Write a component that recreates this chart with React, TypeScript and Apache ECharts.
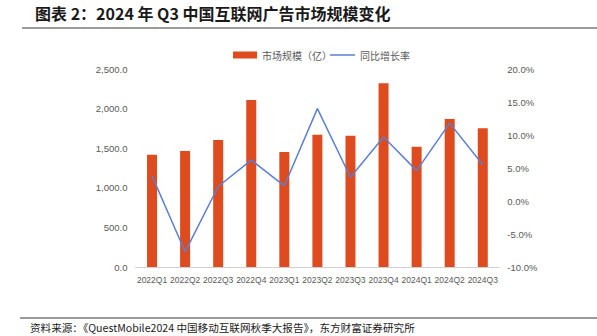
import React, { useEffect, useRef } from "react";
import * as echarts from "echarts";

const categories = ["2022Q1", "2022Q2", "2022Q3", "2022Q4", "2023Q1", "2023Q2", "2023Q3", "2023Q4", "2024Q1", "2024Q2", "2024Q3"];
const marketSize = [1418, 1465, 1604, 2109, 1452, 1671, 1658, 2319, 1519, 1869, 1751];
const yoyGrowth = [3.8, -7.7, 2.2, 6.2, 2.3, 14.0, 3.6, 9.7, 4.6, 11.8, 5.5];
const seriesNames = ["市场规模（亿）", "同比增长率"];
const titleText = "图表 2：2024 年 Q3 中国互联网广告市场规模变化";
const sourceText = "资料来源：《QuestMobile2024 中国移动互联网秋季大报告》，东方财富证券研究所";

export default function App() {
  const ref = useRef<HTMLDivElement>(null);
  useEffect(() => {
    const chart = echarts.init(ref.current!, null, { renderer: "svg" });
    const font = "'Noto Sans CJK SC', 'Noto Sans', sans-serif";
    const latin = "'Liberation Sans', Arial, sans-serif";
    chart.setOption({
      animation: false,
      backgroundColor: "#ffffff",
      textStyle: { fontFamily: font },
      graphic: [
        {
          type: "text",
          left: 35,
          top: 5,
          style: { text: titleText, fontSize: 16, fontWeight: "bold", fill: "#1a1a1a", fontFamily: font },
        },
        {
          type: "line",
          shape: { x1: 22, y1: 28, x2: 597, y2: 28 },
          style: { stroke: "#9a9a9a", lineWidth: 2 },
        },
        {
          type: "line",
          shape: { x1: 20, y1: 318, x2: 597, y2: 318 },
          style: { stroke: "#9a9a9a", lineWidth: 2 },
        },
        {
          type: "text",
          left: 30,
          top: 322,
          style: { text: sourceText, fontSize: 10.6, fill: "#1a1a1a", fontFamily: font },
        },
      ],
      legend: [
        {
          top: 45,
          left: 228,
          itemWidth: 24,
          itemHeight: 7,
          textStyle: { fontSize: 10, color: "#595959" },
          data: [{ name: seriesNames[0], icon: "rect" }],
        },
        {
          top: 45,
          left: 325,
          itemWidth: 25,
          itemHeight: 1.5,
          textStyle: { fontSize: 10, color: "#595959" },
          data: [{ name: seriesNames[1], icon: "rect" }],
        },
      ],
      grid: { left: 135.5, right: 97.7, top: 69, bottom: 69 },
      xAxis: {
        type: "category",
        data: categories,
        axisLine: { lineStyle: { color: "#d0d0d0" } },
        axisTick: { show: false },
        axisLabel: { fontSize: 8.5, color: "#595959", margin: 8, interval: 0, fontFamily: latin },
      },
      yAxis: [
        {
          type: "value",
          min: 0,
          max: 2500,
          interval: 500,
          splitLine: { show: false },
          axisLine: { show: false },
          axisTick: { show: false },
          axisLabel: {
            fontSize: 9.5,
            color: "#595959",
            margin: 8,
            fontFamily: latin,
            formatter: (v: number) =>
              v.toLocaleString("en-US", { minimumFractionDigits: 1, maximumFractionDigits: 1 }),
          },
        },
        {
          type: "value",
          min: -10,
          max: 20,
          interval: 5,
          splitLine: { show: false },
          axisLine: { show: false },
          axisTick: { show: false },
          axisLabel: {
            fontSize: 9.5,
            color: "#595959",
            margin: 8,
            fontFamily: latin,
            formatter: (v: number) => v.toFixed(1) + "%",
          },
        },
      ],
      series: [
        {
          name: seriesNames[0],
          type: "bar",
          data: marketSize,
          barWidth: 10,
          itemStyle: { color: "#DE4B1E" },
        },
        {
          name: seriesNames[1],
          type: "line",
          yAxisIndex: 1,
          data: yoyGrowth,
          symbol: "none",
          lineStyle: { color: "#5B7FD4", width: 1.5 },
          itemStyle: { color: "#5B7FD4" },
        },
      ],
    });
    return () => chart.dispose();
  }, []);
  return <div ref={ref} style={{ position: "absolute", left: 0, top: 0, width: 597, height: 336 }} />;
}
